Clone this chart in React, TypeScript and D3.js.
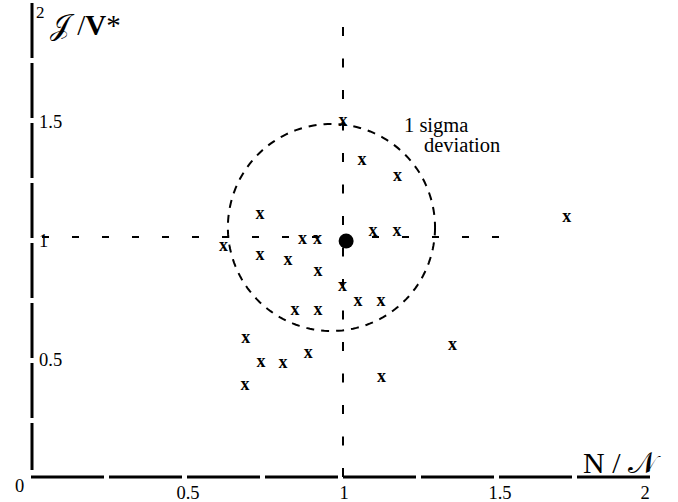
import React from "react";
import * as d3 from "d3";

// ---- data ----
const pointX = [1.0, 1.061, 1.175, 0.734, 1.096, 1.173, 0.617, 0.734, 0.87, 0.918, 0.824, 0.92, 0.998, 1.048, 1.122, 0.846, 0.92, 0.688, 0.737, 0.808, 0.889, 0.686, 1.123, 1.351, 1.717];
const pointY = [1.5, 1.336, 1.269, 1.109, 1.038, 1.038, 0.973, 0.937, 1.004, 1.004, 0.916, 0.87, 0.807, 0.742, 0.742, 0.706, 0.706, 0.588, 0.489, 0.485, 0.525, 0.389, 0.426, 0.559, 1.095];
const meanPoint = [1.01, 1.0];
const sigmaCenter = [0.963, 1.057];
const sigmaRadius = [0.332, 0.435];
const refLineX = 1;
const refLineY = 1.017;
const xTicks = [0.5, 1, 1.5, 2];
const xTickLabels = ["0.5", "1", "1.5", "2"];
const yTicks = [0.5, 1, 1.5];
const yTickLabels = ["0.5", "1", "1.5"];
const xDomain = [0, 2];
const yDomain = [0, 2];

const W = 678;
const H = 502;
const FONT = "'Liberation Serif', 'Times New Roman', serif";

export default function App() {
  const x = d3.scaleLinear().domain(xDomain).range([31, 655]);
  const y = d3.scaleLinear().domain(yDomain).range([479, 3]);

  const ellipsePath = (() => {
    const cx = x(sigmaCenter[0]);
    const cy = y(sigmaCenter[1]);
    const rx = x(sigmaCenter[0] + sigmaRadius[0]) - cx;
    const ry = cy - y(sigmaCenter[1] + sigmaRadius[1]);
    const line = d3.line<number>()
      .x((t) => cx + rx * Math.cos(t))
      .y((t) => cy + ry * Math.sin(t))
      .curve(d3.curveLinearClosed);
    return line(d3.range(0, 2 * Math.PI, Math.PI / 90)) || "";
  })();

  return (
    <svg
      width={W}
      height={H}
      style={{ position: "absolute", left: 0, top: 0, background: "#fff" }}
      fontFamily={FONT}
    >
      {/* axes */}
      <line x1={x(0) + 1} y1={3} x2={x(0) + 1} y2={470} stroke="#000" strokeWidth={3} strokeDasharray="55,5" />
      <line x1={x(0)} y1={y(0) - 2} x2={x(2)} y2={y(0) - 2} stroke="#000" strokeWidth={3} strokeDasharray="73,5" />

      {/* reference dashed lines */}
      <line x1={x(refLineX)} y1={27} x2={x(refLineX)} y2={y(0) - 2} stroke="#000" strokeWidth={2} strokeDasharray="9,22.5" />
      <line x1={42} y1={y(refLineY)} x2={500} y2={y(refLineY)} stroke="#000" strokeWidth={2} strokeDasharray="7,23" />

      {/* sigma ellipse */}
      <path d={ellipsePath} fill="none" stroke="#000" strokeWidth={2} strokeDasharray="8,7" />

      {/* points */}
      {pointX.map((v, i) => (
        <text
          key={i}
          x={x(v)}
          y={y(pointY[i]) + 4}
          textAnchor="middle"
          fontSize={18}
          fontWeight="bold"
        >
          x
        </text>
      ))}

      {/* mean point */}
      <circle cx={x(meanPoint[0])} cy={y(meanPoint[1])} r={7.5} fill="#000" />

      {/* annotation */}
      <text x={404} y={132} fontSize={20.5}>1 sigma</text>
      <text x={424} y={152} fontSize={20.5}>deviation</text>

      {/* y tick labels */}
      {yTicks.map((v, i) => (
        <text key={i} x={39} y={y(v) + 6} fontSize={18.5}>
          {yTickLabels[i]}
        </text>
      ))}
      <text x={36} y={18} fontSize={17}>2</text>

      {/* x tick labels */}
      {xTicks.map((v, i) => (
        <text
          key={i}
          x={x(v) + (i === xTicks.length - 1 ? -10 : 1)}
          y={499}
          textAnchor="middle"
          fontSize={18.5}
        >
          {xTickLabels[i]}
        </text>
      ))}
      <text x={15} y={492} fontSize={18.5}>0</text>

      {/* axis titles */}
      <text x={50} y={35} fontSize={29}>
        <tspan>𝒥</tspan>
        <tspan> /</tspan>
        <tspan fontWeight="bold">V</tspan>
        <tspan>*</tspan>
      </text>
      <text x={583} y={473} fontSize={30}>
        N / 𝒩
      </text>
    </svg>
  );
}
